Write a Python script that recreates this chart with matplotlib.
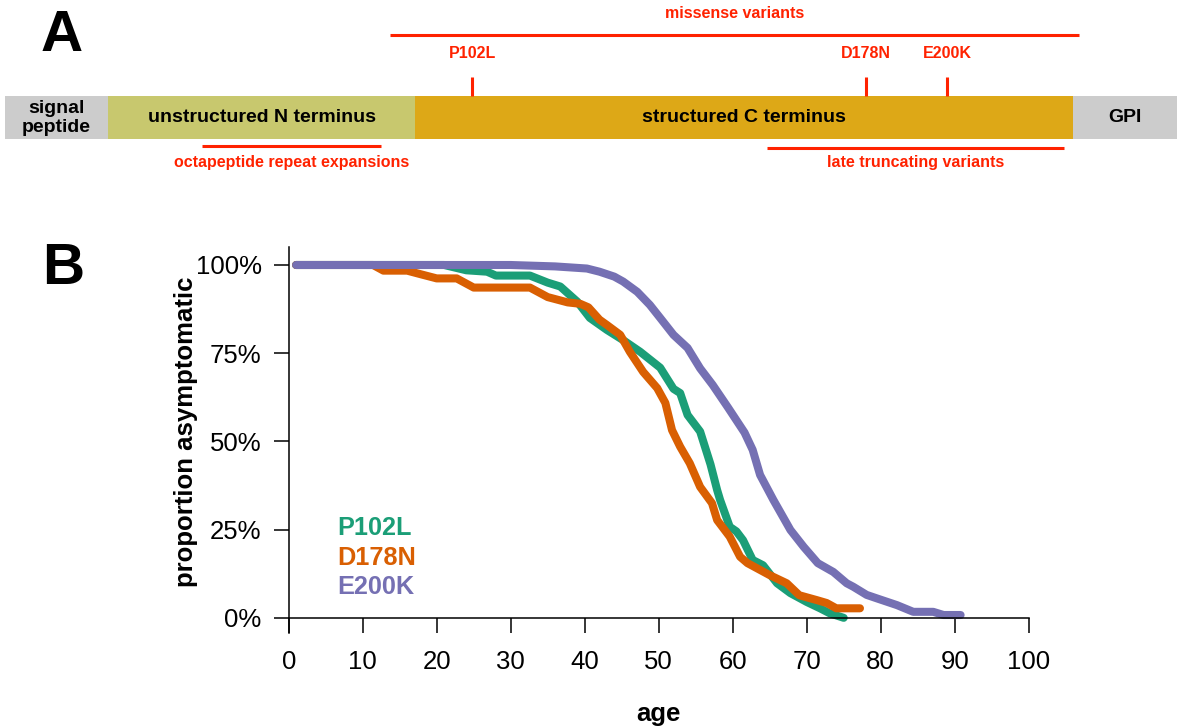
import matplotlib
matplotlib.use("Agg")
import matplotlib.pyplot as plt
import numpy as np

plt.rcParams["font.family"] = ["Liberation Sans", "DejaVu Sans"]

# Panel A: schematic of the protein (diagram units, left to right)
domain_names = ["signal\npeptide", "unstructured N terminus", "structured C terminus", "GPI"]
domain_start = [5, 108, 415, 1073]
domain_end = [108, 415, 1073, 1177]
domain_colors = ["#CCCCCC", "#C8C86E", "#DDA817", "#CCCCCC"]

variant_names = ["P102L", "D178N", "E200K"]
variant_pos = [472, 866, 947]

region_names = ["missense variants", "octapeptide repeat expansions", "late truncating variants"]
region_start = [390, 202, 767]
region_end = [1079, 381, 1064]

# Panel B: proportion asymptomatic (%) by age
p102l_age = [1, 21, 24, 26.8, 28, 32.6, 35, 36.7, 39, 40.7, 43, 45.2, 47.5, 50.2, 52, 52.9,
             53.9, 55.6, 57, 57.9, 58.3, 59.6, 60.5, 61.4, 62.7, 64.1, 66, 67.8, 70, 71.8, 73.1, 75]
p102l_pct = [100, 100, 98.5, 98.1, 97.0, 97.0, 95, 93.9, 89.6, 85, 81.6, 78.7, 75.4, 70.9, 64.9, 63.7,
             57.5, 52.8, 43.5, 36.2, 33.4, 25.8, 24.5, 22, 16.4, 14.9, 9.8, 7, 4.5, 2.7, 1.3, 0]

d178n_age = [1, 11.4, 12.8, 16, 17.8, 20, 22.7, 25, 32.6, 35, 37.7, 39.4, 40.5, 42, 43, 44.8, 46.1,
             47.9, 49.8, 50.9, 51.8, 52.9, 54.2, 55.6, 57.2, 57.9, 59.6, 61, 62, 65, 67.3, 69,
             71.4, 72.7, 74, 77.2]
d178n_pct = [100, 100, 98.4, 98.4, 97.4, 96.2, 96.2, 93.6, 93.6, 90.9, 89.4, 89.0, 88.0, 84.5, 83, 80.2, 75.4,
             69.7, 65.1, 60.9, 53.2, 48.5, 43.8, 37.1, 32.5, 27.7, 23, 17.3, 15.5, 12.1, 9.8, 6.4,
             5, 4.2, 2.7, 2.7]

e200k_age = [1, 30, 36, 40.3, 42, 44, 45.2, 47.1, 48.8, 50.2, 52, 53.9, 55.6, 57.3, 59.4, 61.6,
             62.7, 63.7, 65.5, 67.8, 69.6, 71.5, 73.6, 75.4, 76.3, 78.1, 79.5, 82.2, 84.4, 87.1,
             88.5, 90.8]
e200k_pct = [100, 100, 99.6, 99, 98.1, 96.7, 95.3, 92.4, 88.7, 85, 80.2, 76.5, 70.7, 66, 59.5, 52.5,
             47.6, 40.5, 33.4, 24.9, 20.1, 15.5, 13, 9.8, 8.8, 6.5, 5.5, 3.6, 1.7, 1.7,
             0.8, 0.8]

series = [
    ("P102L", p102l_age, p102l_pct, "#1B9E77"),
    ("D178N", d178n_age, d178n_pct, "#D95F02"),
    ("E200K", e200k_age, e200k_pct, "#7570B3"),
]

red = "#FF2200"

fig = plt.figure(figsize=(11.77, 7.26), dpi=100)

# overlay axes for panel A and the panel letters
ax_a = fig.add_axes([0, 0, 1, 1])
ax_a.set_xlim(0, 1177)
ax_a.set_ylim(726, 0)
ax_a.axis("off")

widths = np.array(domain_end) - np.array(domain_start)
ax_a.barh(117.5, widths, left=domain_start, height=43, color=domain_colors, linewidth=0)
for name, s, e in zip(domain_names, domain_start, domain_end):
    ax_a.text((s + e) / 2, 118, name, ha="center", va="center", fontsize=14,
              fontweight="bold", color="black", linespacing=1.15)

ax_a.vlines(variant_pos, 77, 96, color=red, linewidth=2.2)
for name, p in zip(variant_names, variant_pos):
    ax_a.text(p, 53, name, ha="center", va="center", fontsize=11.5, fontweight="bold", color=red)

region_line_y = [35, 146, 148]
region_text_y = [14, 162, 163]
for name, s, e, ly, ty in zip(region_names, region_start, region_end, region_line_y, region_text_y):
    ax_a.plot([s, e], [ly, ly], color=red, linewidth=2.2, solid_capstyle="butt")
    ax_a.text((s + e) / 2, ty, name, ha="center", va="center", fontsize=11.5,
              fontweight="bold", color=red)

ax_a.text(62, 36, "A", ha="center", va="center", fontsize=42, fontweight="bold")
ax_a.text(63, 269, "B", ha="center", va="center", fontsize=42, fontweight="bold")

# Panel B
ax = fig.add_axes([288.7 / 1177, (726 - 633) / 726, 740 / 1177, 386 / 726])
ax.patch.set_alpha(0)
for name, age, pct, col in series:
    ax.plot(age, pct, color=col, linewidth=5.8, solid_capstyle="round",
            solid_joinstyle="round", label=name)

ax.set_xlim(0, 100)
ax.set_ylim(-4.3, 105.1)
ax.spines["top"].set_visible(False)
ax.spines["right"].set_visible(False)
ax.spines["bottom"].set_position(("data", 0))
for sp in ("left", "bottom"):
    ax.spines[sp].set_linewidth(1.1)

ax.set_xticks(np.arange(0, 101, 10))
ax.set_yticks([0, 25, 50, 75, 100])
ax.set_yticklabels(["0%", "25%", "50%", "75%", "100%"])
ax.tick_params(axis="both", length=10.5, width=1.1, labelsize=18.5)
ax.tick_params(axis="y", pad=9)
ax.tick_params(axis="x", pad=13)

ax.set_xlabel("age", fontsize=18.5, fontweight="bold")
ax.xaxis.set_label_coords(0.5, -0.18)
ax.set_ylabel("proportion asymptomatic", fontsize=18.5, fontweight="bold")
ax.yaxis.set_label_coords(-0.122, 0.52)

leg_y = [25.4, 16.9, 8.7]
for (name, age, pct, col), ly in zip(series, leg_y):
    ax.text(6.5, ly, name, color=col, fontsize=18.2, fontweight="bold", ha="left", va="center")

fig.savefig("out.png", dpi=100)
